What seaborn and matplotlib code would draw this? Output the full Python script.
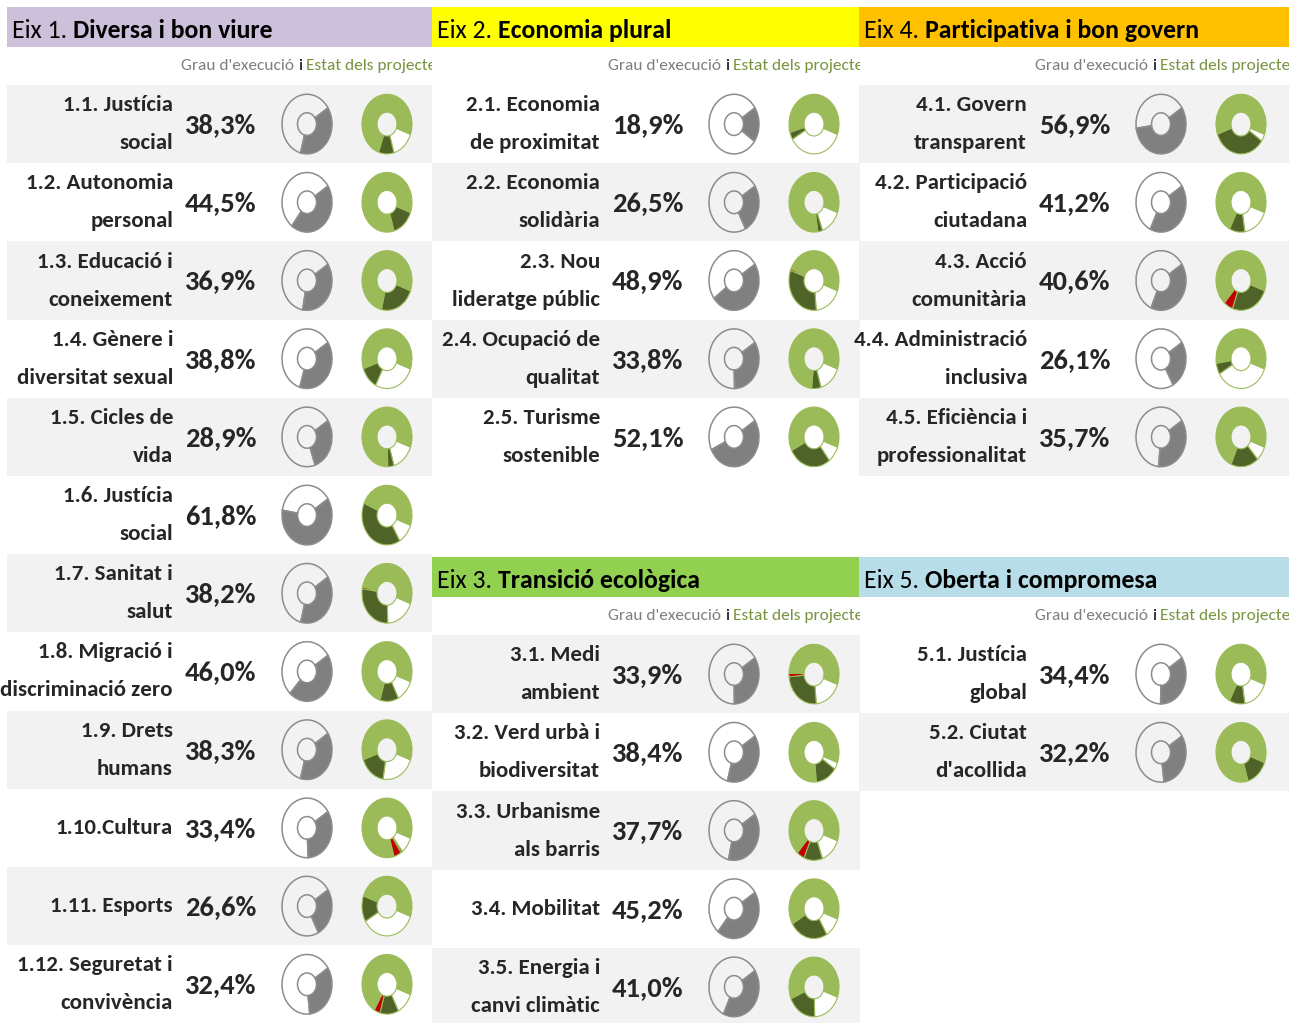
import matplotlib
matplotlib.use('Agg')
import matplotlib.pyplot as plt
import seaborn as sns
from matplotlib.patches import Rectangle

# ---------------- data ----------------
eix_nums = ['Eix 1.', 'Eix 2.', 'Eix 3.', 'Eix 4.', 'Eix 5.']
eix_names = ['Diversa i bon viure', 'Economia plural', 'Transició ecològica',
             'Participativa i bon govern', 'Oberta i compromesa']
eix_colors = ['#ccc0da', '#ffff00', '#92d050', '#ffc000', '#b7dee8']

labels1 = [('1.1. Justícia', 'social'), ('1.2. Autonomia', 'personal'),
           ('1.3. Educació i', 'coneixement'), ('1.4. Gènere i', 'diversitat sexual'),
           ('1.5. Cicles de', 'vida'), ('1.6. Justícia', 'social'),
           ('1.7. Sanitat i', 'salut'), ('1.8. Migració i', 'discriminació zero'),
           ('1.9. Drets', 'humans'), ('1.10.Cultura',), ('1.11. Esports',),
           ('1.12. Seguretat i', 'convivència')]
labels2 = [('2.1. Economia', 'de proximitat'), ('2.2. Economia', 'solidària'),
           ('2.3. Nou', 'lideratge públic'), ('2.4. Ocupació de', 'qualitat'),
           ('2.5. Turisme', 'sostenible')]
labels3 = [('3.1. Medi', 'ambient'), ('3.2. Verd urbà i', 'biodiversitat'),
           ('3.3. Urbanisme', 'als barris'), ('3.4. Mobilitat',),
           ('3.5. Energia i', 'canvi climàtic')]
labels4 = [('4.1. Govern', 'transparent'), ('4.2. Participació', 'ciutadana'),
           ('4.3. Acció', 'comunitària'), ('4.4. Administració', 'inclusiva'),
           ('4.5. Eficiència i', 'professionalitat')]
labels5 = [('5.1. Justícia', 'global'), ('5.2. Ciutat', "d'acollida")]

pct1 = [38.3, 44.5, 36.9, 38.8, 28.9, 61.8, 38.2, 46.0, 38.3, 33.4, 26.6, 32.4]
pct2 = [18.9, 26.5, 48.9, 33.8, 52.1]
pct3 = [33.9, 38.4, 37.7, 45.2, 41.0]
pct4 = [56.9, 41.2, 40.6, 26.1, 35.7]
pct5 = [34.4, 32.2]

# project status shares (%): not started (white), finished (dark), problems (red)
white1 = [15, 0, 0, 27, 15, 11, 19, 12, 22, 9, 36, 12]
dark1 = [10, 15, 23, 12, 4, 40, 28, 12, 17, 1, 14, 12]
red1 = [0, 0, 0, 0, 0, 0, 1, 0, 0, 5, 0, 4]
white2 = [36, 14, 18, 15, 9]
dark2 = [4, 3, 32, 6, 28]
red2 = [0, 0, 1, 0, 0]
white3 = [18, 4, 14, 11, 19]
dark3 = [25, 14, 12, 25, 19]
red3 = [2, 0, 5, 0, 0]
white4 = [4, 17, 0, 36, 8]
dark4 = [35, 10, 25, 6, 18]
red4 = [0, 0, 6, 0, 0]
white5 = [17, 0]
dark5 = [10, 15]
red5 = [0, 0]

# row background shading (True = grey)
shade1 = [True, False] * 6
shade2 = [False, True, False, True, False]
shade3 = [True, False, True, False, True]
shade4 = [True, False, True, False, True]
shade5 = [False, True]

groups = [
    (0, labels1, pct1, white1, dark1, red1, shade1, 0, 7),
    (1, labels2, pct2, white2, dark2, red2, shade2, 427, 7),
    (2, labels3, pct3, white3, dark3, red3, shade3, 427, 557),
    (3, labels4, pct4, white4, dark4, red4, shade4, 854, 7),
    (4, labels5, pct5, white5, dark5, red5, shade5, 854, 557),
]

# ---------------- style ----------------
sns.set_theme(style='white')
plt.rcParams['font.family'] = ['Carlito', 'DejaVu Sans']

GREY = '#808080'
LIGHT = '#9bbb59'
DARK = '#4f6228'
RED = '#c00000'
ROWBG = '#f2f2f2'

W, H = 1303, 1023
fig = plt.figure(figsize=(W / 100, H / 100), dpi=100)
fig.patch.set_facecolor('white')
bg = fig.add_axes([0, 0, 1, 1])
bg.set_xlim(0, W)
bg.set_ylim(H, 0)
bg.axis('off')
fig.canvas.draw()
rend = fig.canvas.get_renderer()

ROW_H = 78.2


def col_width(gi):
    return 425 if gi == 0 else (428 if gi < 3 else 430)


def mixed_text(x, y, parts, clip=None, **kw):
    for s, props in parts:
        t = bg.text(x, y, s, **kw, **props)
        if clip is not None:
            t.set_clip_on(True)
            t.set_clip_path(clip)
        bb = t.get_window_extent(renderer=rend)
        x += bb.width + kw.get('fontsize', 12) * 0.32


for gi, labels, pcts, whites, darks, reds, shades, off, top in groups:
    x0 = 7 + off if gi == 0 else 5 + off
    cw = col_width(gi)
    # header bar
    bg.add_patch(Rectangle((x0, top), cw, 40, facecolor=eix_colors[gi],
                           edgecolor='none'))
    mixed_text(x0 + 5, top + 23, [(eix_nums[gi], {}),
                                   (eix_names[gi], {'fontweight': 'bold'})],
               fontsize=18.5, va='center', ha='left', color='black')
    # subtitle
    clip = Rectangle((x0, top + 45), cw, 30, transform=bg.transData,
                     facecolor='none', edgecolor='none')
    bg.add_patch(clip)
    mixed_text(181 + off, top + 59, [("Grau d'execució", {'color': '#7f7f7f'}),
                                      ('i', {'color': 'black'}),
                                      ('Estat dels projectes', {'color': '#77933c'})],
               clip=clip, fontsize=12.5, va='center', ha='left')
    rtop = top + 78
    for i, (lab, p, wv, dv, rv, sh) in enumerate(zip(labels, pcts, whites, darks, reds, shades)):
        y0 = rtop + i * ROW_H
        yc = y0 + ROW_H / 2
        if sh:
            bg.add_patch(Rectangle((x0, y0), cw, ROW_H, facecolor=ROWBG,
                                   edgecolor='none', zorder=0))
        if len(lab) == 2:
            bg.text(173 + off, yc - 19, lab[0], ha='right', va='center',
                    fontsize=16.5, fontweight='bold')
            bg.text(173 + off, yc + 19, lab[1], ha='right', va='center',
                    fontsize=16.5, fontweight='bold')
        else:
            bg.text(173 + off, yc, lab[0], ha='right', va='center',
                    fontsize=16.5, fontweight='bold')
        bg.text(221 + off, yc + 1, f'{p:.1f}%'.replace('.', ','), ha='center',
                va='center', fontsize=20.5, fontweight='bold')

        # grey donut: execution degree
        cx = 307 + off
        ax = fig.add_axes([(cx - 26) / W, 1 - (yc + 31) / H, 52 / W, 62 / H])
        ax.pie([p, 100 - p], colors=[GREY, 'none'], startangle=33,
               counterclock=False,
               wedgeprops=dict(width=0.62, edgecolor='#8c8c8c', linewidth=1.1))
        ax.set_aspect('auto')
        ax.set_xlim(-1.04, 1.04)
        ax.set_ylim(-1.04, 1.04)
        ax.axis('off')

        # green donut: project status
        cx2 = 387 + off
        ax2 = fig.add_axes([(cx2 - 26) / W, 1 - (yc + 31) / H, 52 / W, 62 / H])
        light = 100 - wv - dv - rv
        vals = [wv, dv, rv, light]
        cols = ['white', DARK, RED, LIGHT]
        vv = [v for v in vals if v > 0]
        cc = [c for v, c in zip(vals, cols) if v > 0]
        ax2.pie(vv, colors=cc, startangle=-20, counterclock=False,
                wedgeprops=dict(width=0.6, edgecolor=LIGHT, linewidth=0.8))
        ax2.set_aspect('auto')
        ax2.set_xlim(-1.04, 1.04)
        ax2.set_ylim(-1.04, 1.04)
        ax2.axis('off')

fig.savefig('out.png', dpi=100, facecolor='white')
